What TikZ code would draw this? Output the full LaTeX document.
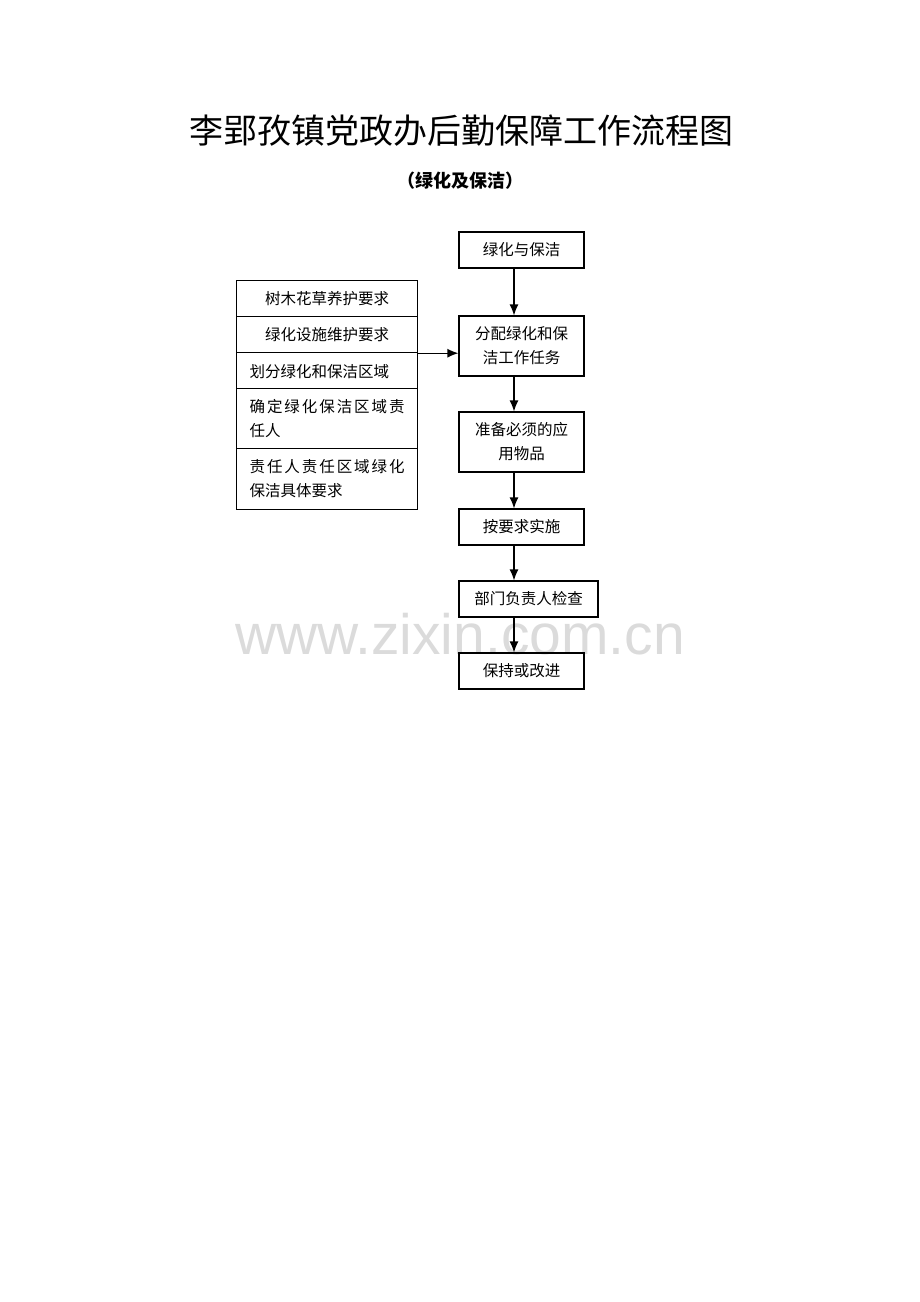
\documentclass[tikz,border=0pt]{standalone}
\usepackage{fontspec}
\setmainfont{Noto Sans CJK SC}
\newfontfamily\markfont{Liberation Sans}
\usetikzlibrary{arrows.meta}

\tikzset{
	box/.style={draw, line width=1.2pt, minimum width=125pt, minimum height=36pt,
		inner sep=0pt, font=\fontsize{15.5}{24}\selectfont, align=center},
	lbox/.style={draw, line width=1.2pt, minimum width=181pt, anchor=north west,
		inner sep=0pt, font=\fontsize{15.5}{24}\selectfont},
	flow/.style={line width=1.2pt, -{Latex[length=11pt,width=9pt]}}
}

\begin{document}
\begin{tikzpicture}[x=1pt,y=-1pt]
	\useasboundingbox (0,0) rectangle (920,1302);
	% watermark
	\node[text=black!14, font=\markfont\fontsize{57}{60}\selectfont] (mark) at (460,634) {www.zixin.com.cn};
	% title
	\node[font=\fontsize{34}{40}\selectfont] (title) at (461,131) {李郢孜镇党政办后勤保障工作流程图};
	\node[font=\fontsize{18}{22}\selectfont\bfseries] (sub) at (460,181) {（绿化及保洁）};
	% left stack
	\node[lbox, minimum height=36pt] (r1) at (236,280) {树木花草养护要求};
	\node[lbox, minimum height=36pt] (r2) at (236,316) {绿化设施维护要求};
	\node[lbox, minimum height=36pt, text width=155pt, align=left, inner xsep=13pt, text depth=0pt] (r3) at (236,352) {划分绿化和保洁区域};
	\node[lbox, minimum height=60pt, text width=155pt, align=left, inner xsep=13pt] (r4) at (236,388) {\makebox[155pt][s]{确\hfill 定\hfill 绿\hfill 化\hfill 保\hfill 洁\hfill 区\hfill 域\hfill 责}\\任人};
	\node[lbox, minimum height=61pt, text width=155pt, align=left, inner xsep=13pt] (r5) at (236,448) {\makebox[155pt][s]{责\hfill 任\hfill 人\hfill 责\hfill 任\hfill 区\hfill 域\hfill 绿\hfill 化}\\保洁具体要求};
	% right column
	\node[box] (b1) at (521.5,250) {绿化与保洁};
	\node[box, minimum height=60pt] (b2) at (521.5,346) {分配绿化和保\\洁工作任务};
	\node[box, minimum height=60pt] (b3) at (521.5,442) {准备必须的应\\用物品};
	\node[box] (b4) at (521.5,527) {按要求实施};
	\node[box, minimum width=139pt] (b5) at (528.5,599) {部门负责人检查};
	\node[box] (b6) at (521.5,671) {保持或改进};
	\coordinate (j) at (r2.south east);
	\draw[flow] (j) -- (j -| b2.west);
	\draw[flow] (b1.south -| 514,0) -- (b2.north -| 514,0);
	\draw[flow] (b2.south -| 514,0) -- (b3.north -| 514,0);
	\draw[flow] (b3.south -| 514,0) -- (b4.north -| 514,0);
	\draw[flow] (b4.south -| 514,0) -- (b5.north -| 514,0);
	\draw[flow] (b5.south -| 514,0) -- (b6.north -| 514,0);
\end{tikzpicture}
\end{document}
